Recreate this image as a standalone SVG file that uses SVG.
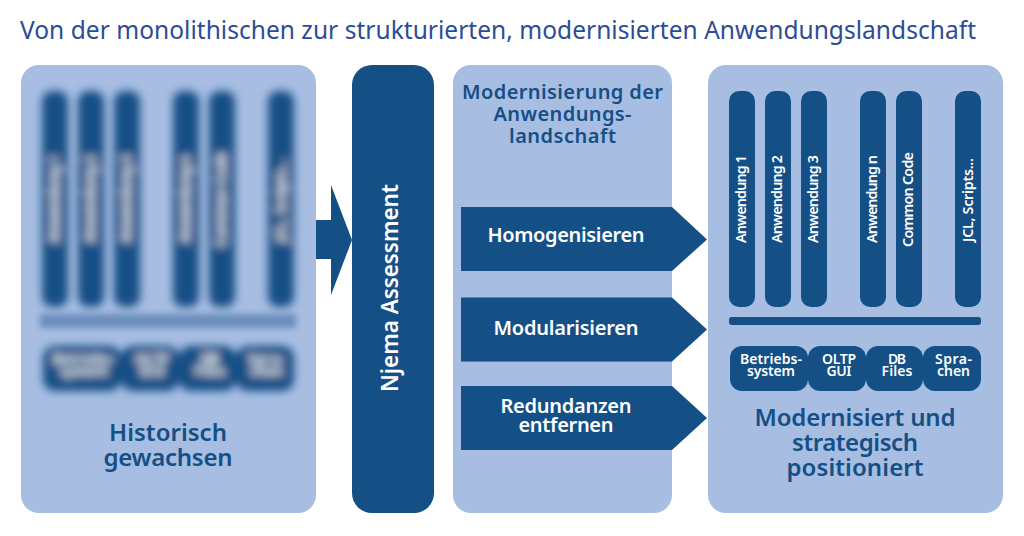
<svg xmlns="http://www.w3.org/2000/svg" width="1024" height="536" viewBox="0 0 1024 536">
<style>
text{font-family:"Noto Sans","Open Sans","Liberation Sans",sans-serif;text-anchor:middle}
.panel{fill:#a7bde2}
.dark{fill:#144f85}
.w{fill:#fff;font-weight:600}
.b{fill:#144f85;font-weight:600}
.v{font-size:14.300px}
.s{font-size:14px}
.h{font-size:24px}
.m{font-size:20px}
.c{font-size:20px}
</style>
<defs>
<filter id="blur" x="-5%" y="-5%" width="110%" height="110%"><feGaussianBlur stdDeviation="4.200"/></filter>
<filter id="blurbar" x="-5%" y="-100%" width="110%" height="300%"><feGaussianBlur stdDeviation="3"/></filter>
<g id="stack">
<rect class="dark" x="42" y="91" width="26" height="216" rx="10"/>
<rect class="dark" x="78" y="91" width="26" height="216" rx="10"/>
<rect class="dark" x="114" y="91" width="26" height="216" rx="10"/>
<rect class="dark" x="173" y="91" width="26" height="216" rx="10"/>
<rect class="dark" x="209" y="91" width="26" height="216" rx="10"/>
<rect class="dark" x="268" y="91" width="26" height="216" rx="10"/>
<rect class="dark" x="43" y="346" width="78" height="45" rx="12"/>
<rect class="dark" x="121" y="346" width="58" height="45" rx="12"/>
<rect class="dark" x="179" y="346" width="57" height="45" rx="12"/>
<rect class="dark" x="236" y="346" width="58" height="45" rx="12"/>
<g class="w v">
<text transform="translate(59,199) rotate(-90)" textLength="88">Anwendung 1</text>
<text transform="translate(95,199) rotate(-90)" textLength="88">Anwendung 2</text>
<text transform="translate(131,199) rotate(-90)" textLength="88">Anwendung 3</text>
<text transform="translate(190,199) rotate(-90)" textLength="88">Anwendung n</text>
<text transform="translate(226,199.500) rotate(-90)" textLength="95">Common Code</text>
<text transform="translate(286,200) rotate(-90)" textLength="84">JCL, Scripts...</text>
</g>
<g class="w s">
<text x="84" y="364" textLength="62">Betriebs-</text><text x="84" y="376" textLength="48">system</text>
<text x="152" y="364" textLength="34">OLTP</text><text x="152" y="376" textLength="25">GUI</text>
<text x="210" y="364" textLength="18">DB</text><text x="210" y="376" textLength="31">Files</text>
<text x="266.500" y="364" textLength="37">Spra-</text><text x="266.500" y="376" textLength="33">chen</text>
</g>
</g>
</defs>
<text x="498" y="39" textLength="956" style="font-size:24.500px;fill:#2c4c95">Von der monolithischen zur strukturierten, modernisierten Anwendungslandschaft</text>
<g id="panel-historisch">
<rect class="panel" x="21" y="65" width="295" height="448" rx="18"/>
<use href="#stack" filter="url(#blur)"/>
<rect class="dark" x="40" y="314" width="256" height="14" opacity=".42" filter="url(#blurbar)"/>
<text class="b h" x="168" y="441" textLength="118">Historisch</text>
<text class="b h" x="168" y="466" textLength="129">gewachsen</text>
</g>
<g id="node-assessment">
<rect class="dark" x="352" y="65" width="82" height="448" rx="20"/>
<text class="w" transform="translate(398,288) rotate(-90)" style="font-size:22.500px" textLength="208">Njema Assessment</text>
</g>
<g id="panel-modernisierung">
<rect class="panel" x="453" y="65" width="219" height="448" rx="18"/>
<text class="b c" x="562.500" y="99" textLength="201">Modernisierung der</text>
<text class="b c" x="562.500" y="121" textLength="138">Anwendungs-</text>
<text class="b c" x="562.500" y="143" textLength="107">landschaft</text>
</g>
<g id="panel-modernisiert">
<rect class="panel" x="708" y="65" width="295" height="448" rx="18"/>
<use href="#stack" x="687"/>
<rect class="dark" x="729" y="317" width="252" height="8" rx="3"/>
<text class="b h" x="855" y="426" textLength="201">Modernisiert und</text>
<text class="b h" x="855" y="451" textLength="126">strategisch</text>
<text class="b h" x="855" y="476" textLength="137">positioniert</text>
</g>
<g id="connectors">
<polygon class="dark" points="316,220 331,220 331,185 352,240 331,295 331,259 316,259"/>
</g>
<g id="node-homogenisieren">
<polygon class="dark" points="461,207 672,207 707,239.500 672,271 461,271"/>
<text class="w m" x="566" y="242" textLength="157">Homogenisieren</text>
</g>
<g id="node-modularisieren">
<polygon class="dark" points="461,297.500 672,297.500 707,329.500 672,361.500 461,361.500"/>
<text class="w m" x="566" y="335" textLength="145">Modularisieren</text>
</g>
<g id="node-redundanzen">
<polygon class="dark" points="461,386 672,386 707,418 672,450 461,450"/>
<text class="w m" x="566" y="413" textLength="131">Redundanzen</text>
<text class="w m" x="566" y="432" textLength="95">entfernen</text>
</g>
</svg>
